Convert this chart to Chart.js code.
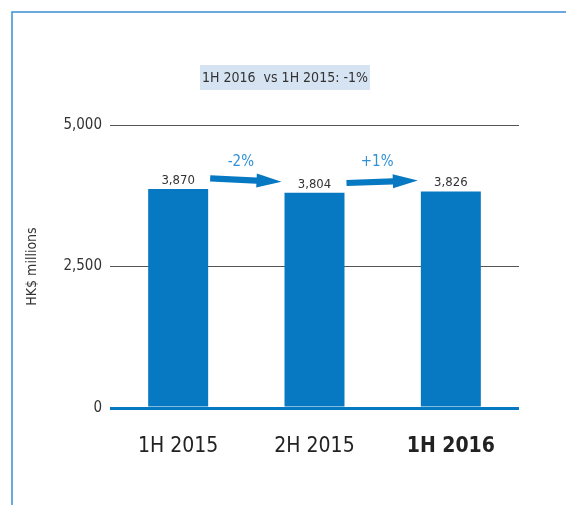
<!DOCTYPE html>
<html>
<head>
<meta charset="utf-8">
<script src="https://cdn.jsdelivr.net/npm/chart.js@4/dist/chart.umd.min.js"></script>
<style>
  html,body{margin:0;padding:0;background:#fff;}
  #wrap{width:566px;height:505px;position:relative;}
</style>
</head>
<body>
<div id="wrap"><canvas id="chart" width="566" height="505"></canvas></div>
<script>
// Data
const categories = ['1H 2015', '2H 2015', '1H 2016'];
const revenue = [3870, 3804, 3826];
const changeLabels = ['-2%', '+1%'];
const yTicks = [0, 2500, 5000];
const headline = '1H 2016  vs 1H 2015: -1%';
const yTitle = 'HK$ millions';

const FONT = '"Liberation Sans Narrow", "DejaVu Sans Condensed", "Open Sans", sans-serif';
const BAR_BLUE = '#0779c2';
const LIGHT_BLUE = '#3190d6';

// Decorations: frame, headline box, value labels, arrows, axis title
const extras = {
  id: 'extras',
  afterDraw(chart){
    const c = chart.ctx;
    const area = chart.chartArea;
    const y = chart.scales.y;
    const meta = chart.getDatasetMeta(0);

    c.save();
    // frame
    c.strokeStyle = '#3a8fd3';
    c.lineWidth = 1.5;
    c.beginPath();
    c.moveTo(12, 505); c.lineTo(12, 12); c.lineTo(566, 12);
    c.stroke();

    // headline box
    c.fillStyle = '#d6e3f3';
    c.fillRect(200, 65, 170, 25);
    c.fillStyle = '#333';
    c.font = '14px ' + FONT;
    c.textAlign = 'center'; c.textBaseline = 'middle';
    c.fillText(headline, 285, 78);

    // y axis title
    c.save();
    c.translate(32, (area.top + area.bottom) / 2);
    c.rotate(-Math.PI / 2);
    c.font = '14px ' + FONT;
    c.fillStyle = '#333';
    c.fillText(yTitle, 0, 0);
    c.restore();

    // value labels
    c.font = '13px ' + FONT;
    c.fillStyle = '#333';
    c.textBaseline = 'alphabetic';
    meta.data.forEach((bar, i) => {
      c.fillText(revenue[i].toLocaleString('en-US'), bar.x, bar.y - 5);
    });

    // arrows between bars (start/end raised above the bar tops)
    const offs = [[10.5, 11], [9.7, 11]];
    for(let i = 0; i < meta.data.length - 1; i++){
      const a = meta.data[i], b = meta.data[i + 1];
      const x1 = a.x + a.width / 2 + 2, x2 = b.x - b.width / 2 - 3;
      const y1 = y.getPixelForValue(revenue[i]) - offs[i][0];
      const y2 = y.getPixelForValue(revenue[i + 1]) - offs[i][1];
      const ang = Math.atan2(y2 - y1, x2 - x1);
      const headLen = 25, headW = 7, shaft = 3.1;
      const bx = x2 - headLen * Math.cos(ang), by = y2 - headLen * Math.sin(ang);
      const nx = -Math.sin(ang), ny = Math.cos(ang);
      c.fillStyle = BAR_BLUE;
      c.beginPath();
      c.moveTo(x1 + nx * shaft, y1 + ny * shaft);
      c.lineTo(bx + nx * shaft, by + ny * shaft);
      c.lineTo(bx + nx * headW, by + ny * headW);
      c.lineTo(x2, y2);
      c.lineTo(bx - nx * headW, by - ny * headW);
      c.lineTo(bx - nx * shaft, by - ny * shaft);
      c.lineTo(x1 - nx * shaft, y1 - ny * shaft);
      c.closePath();
      c.fill();

      c.fillStyle = LIGHT_BLUE;
      c.font = '15px ' + FONT;
      c.textBaseline = 'middle';
      c.fillText(changeLabels[i], (x1 + x2) / 2 - 5, 162);
      c.textBaseline = 'alphabetic';
    }
    c.restore();
  }
};

new Chart(document.getElementById('chart'), {
  type: 'bar',
  data: {
    labels: categories,
    datasets: [{
      data: revenue,
      backgroundColor: BAR_BLUE,
      borderWidth: 0,
      barPercentage: 0.44,
      categoryPercentage: 1
    }]
  },
  options: {
    responsive: false,
    animation: false,
    layout: { padding: { top: 125, right: 47, left: 0, bottom: 0 } },
    plugins: { legend: { display: false }, tooltip: { enabled: false } },
    scales: {
      x: {
        grid: { display: false },
        border: { display: false },
        ticks: {
          padding: 18,
          color: '#222',
          font: ctx => ({ family: FONT, size: 21, weight: ctx.index === 2 ? 'bold' : 'normal' })
        },
        afterFit: s => { s.height = 97; }
      },
      y: {
        min: 0, max: 5000,
        afterBuildTicks: s => { s.ticks = yTicks.map(v => ({ value: v })); },
        border: { display: false },
        grid: {
          drawTicks: false,
          color: ctx => ctx.tick.value === 0 ? BAR_BLUE : '#555',
          lineWidth: ctx => ctx.tick.value === 0 ? 3 : 1
        },
        ticks: {
          padding: 8,
          color: '#333',
          font: { family: FONT, size: 15 },
          callback: v => v.toLocaleString('en-US')
        },
        afterFit: s => { s.width = 110; }
      }
    }
  },
  plugins: [extras]
});
</script>
</body>
</html>
